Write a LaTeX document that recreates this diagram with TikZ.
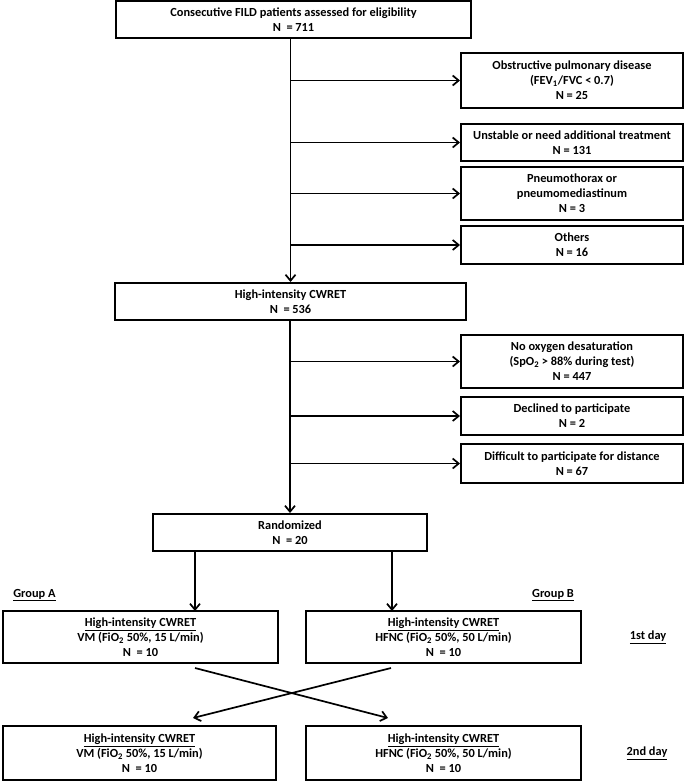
\documentclass[tikz,border=0pt]{standalone}
\usepackage{fontspec}
\setmainfont{Carlito}
\usepackage{tikz}
\usetikzlibrary{arrows.meta, positioning}

\begin{document}
\begin{tikzpicture}[
    x=1bp, y=-1bp,
    box/.style={rectangle, draw=black, line width=2bp, inner sep=1bp, font=\fontsize{12.4}{15}\selectfont\bfseries, align=center},
    sidebox/.style={box, minimum width=222bp},
    label/.style={font=\fontsize{12.4}{15}\selectfont\bfseries},
    flow/.style={line width=1.7bp, -{Straight Barb[length=6bp, width=10bp, line width=1.7bp]}}
]
    \useasboundingbox (0,0) rectangle (685,781);

    % Main column
    \node[box, minimum width=355bp, minimum height=37bp] (elig) at (293.5,19.5) {Consecutive FILD patients assessed for eligibility\\N~ = 711};
    \node[box, minimum width=351bp, minimum height=37bp] (hic) at (290.5,301.5) {High-intensity CWRET\\N~ = 536};
    \node[box, minimum width=274bp, minimum height=37bp] (rand) at (290,532.5) {Randomized\\N~ = 20};

    % Exclusions
    \node[sidebox, minimum height=55bp] (obs) at (572,80.5) {Obstructive pulmonary disease\\(FEV\textsubscript{1}/FVC < 0.7)\\N = 25};
    \node[sidebox, minimum height=37bp] (unst) at (572,142.5) {Unstable or need additional treatment\\N = 131};
    \node[sidebox, minimum height=53bp] (pneu) at (572,193.5) {Pneumothorax or\\pneumomediastinum\\N = 3};
    \node[sidebox, minimum height=38bp] (oth) at (572,245) {Others\\N = 16};
    \node[sidebox, minimum height=53bp] (nodes) at (572,361.5) {No oxygen desaturation\\(SpO\textsubscript{2} > 88\% during test)\\N = 447};
    \node[sidebox, minimum height=38bp] (decl) at (572,416) {Declined to participate\\N = 2};
    \node[sidebox, minimum height=39bp] (diff) at (572,463.5) {Difficult to participate for distance\\N = 67};

    % Groups
    \node[box, minimum width=275bp, minimum height=52bp] (a1) at (140.5,637) {\underline{High-intensity CWRET}\\VM (FiO\textsubscript{2} 50\%, 15 L/min)\\N~ = 10};
    \node[box, minimum width=275bp, minimum height=52bp] (b1) at (443.5,637) {\underline{High-intensity CWRET}\\HFNC (FiO\textsubscript{2} 50\%, 50 L/min)\\N~ = 10};
    \node[box, minimum width=273bp, minimum height=54bp] (a2) at (139.5,753) {\underline{High-intensity CWRET}\\VM (FiO\textsubscript{2} 50\%, 15 L/min)\\N~ = 10};
    \node[box, minimum width=275bp, minimum height=54bp] (b2) at (443.5,753) {\underline{High-intensity CWRET}\\HFNC (FiO\textsubscript{2} 50\%, 50 L/min)\\N~ = 10};

    \node[label] (grpa) at (34.5,595) {\underline{Group A}};
    \node[label] (grpb) at (553,595) {\underline{Group B}};
    \node[label] (day1) at (648,637) {\underline{1st day}};
    \node[label] (day2) at (647,753) {\underline{2nd day}};

    % Arrows
    \draw[flow] (hic.north |- elig.south) -- (hic.north);
    \draw[flow] (hic.north |- obs.west) -- (obs.west);
    \draw[flow] (hic.north |- unst.west) -- (unst.west);
    \draw[flow] (hic.north |- pneu.west) -- (pneu.west);
    \draw[flow] (hic.north |- oth.west) -- (oth.west);

    \draw[flow] (rand.north |- hic.south) -- (rand.north);
    \draw[flow] (rand.north |- nodes.west) -- (nodes.west);
    \draw[flow] (rand.north |- decl.west) -- (decl.west);
    \draw[flow] (rand.north |- diff.west) -- (diff.west);

    \coordinate (ina) at (195,611);
    \coordinate (inb) at (392,611);
    \draw[flow] (rand.south -| ina) -- (ina);
    \draw[flow] (rand.south -| inb) -- (inb);

    % Crossover
    \coordinate (outa) at (195,668);
    \coordinate (outb) at (391,668);
    \coordinate (enda) at (193,718);
    \coordinate (endb) at (388,718);
    \draw[flow] (outa) -- (endb);
    \draw[flow] (outb) -- (enda);
\end{tikzpicture}
\end{document}
